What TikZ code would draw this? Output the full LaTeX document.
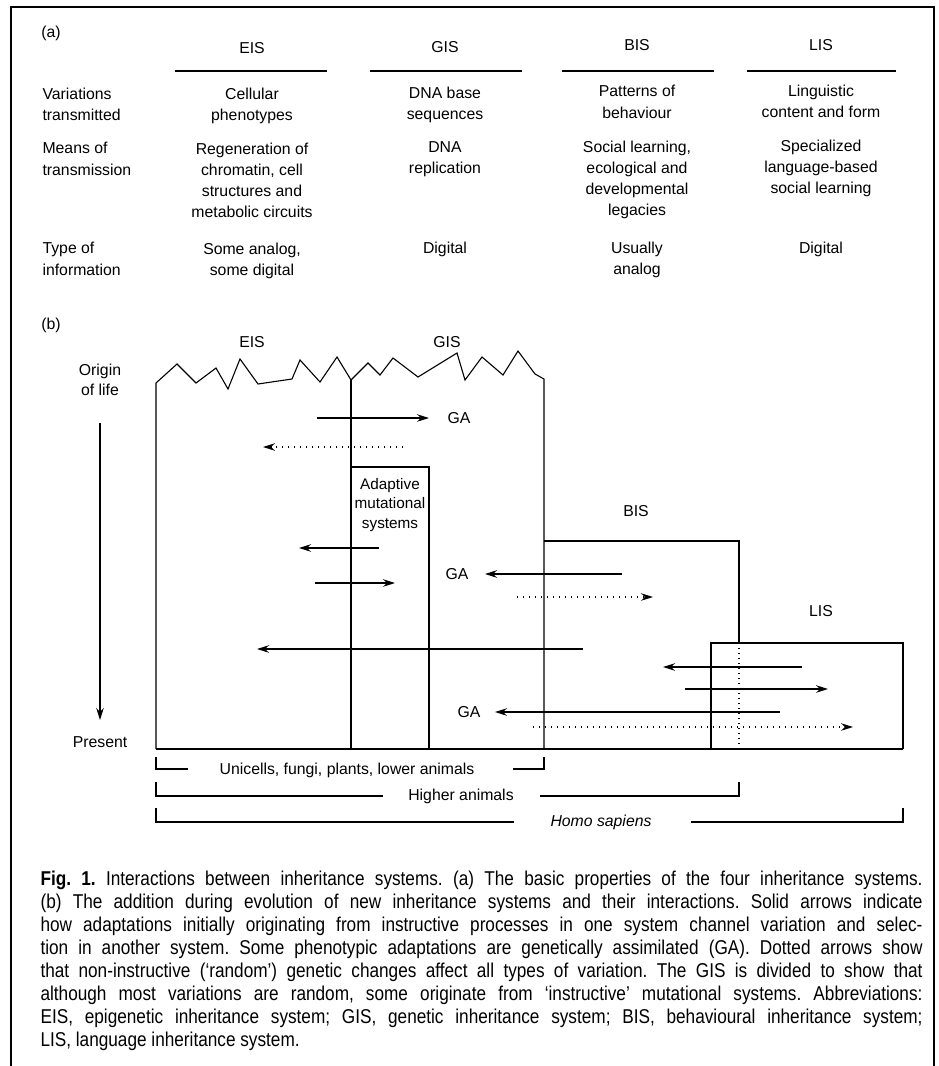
\documentclass[tikz,border=0pt]{standalone}
\usepackage{fontspec}
\setmainfont{Liberation Sans}
\newfontfamily\capfont[FakeStretch=0.86]{Liberation Sans}
\usetikzlibrary{arrows.meta}

\begin{document}
\begin{tikzpicture}[x=1pt,y=-1pt,line width=1.1pt,
  txt/.style={font=\fontsize{15.8}{21.3}\selectfont, inner sep=0pt, align=center},
  cell/.style={txt, anchor=north},
  rowlbl/.style={txt, anchor=north west, align=left},
  arr/.style={-{Stealth[length=12pt,width=7.5pt]}},
  dotarr/.style={arr, dash pattern=on 1pt off 5pt},
  dotln/.style={dash pattern=on 1pt off 4pt}]
\useasboundingbox (0,0) rectangle (938,1066);
% frame
\draw[line width=1.3pt] (11,1066) -- (11,7) -- (934,7) -- (934,1066);

% (a) table
\node[txt] (parta) at (51,33) {(a)};
\node[txt] (heis) at (252,48) {EIS};
\node[txt] (hgis) at (445,47) {GIS};
\node[txt] (hbis) at (637,45) {BIS};
\node[txt] (hlis) at (821,45) {LIS};
\draw (175,71) -- (327,71);
\draw (370,71) -- (522,71);
\draw (562,71) -- (714,71);
\draw (747,71) -- (896,71);

\node[rowlbl] (rvar) at (42,87) {Variations\\transmitted};
\node[rowlbl] (rmean) at (42,142) {Means of\\transmission};
\node[rowlbl] (rtype) at (42,242) {Type of\\information};

\node[cell] (eisvar) at (252,87) {Cellular\\phenotypes};
\node[cell] (eismean) at (252,142) {Regeneration of\\chromatin, cell\\structures and\\metabolic circuits};
\node[cell] (eistype) at (252,242) {Some analog,\\some digital};
\node[cell] (gisvar) at (445,86) {DNA base\\sequences};
\node[cell] (gismean) at (445,141) {DNA\\replication};
\node[cell] (gistype) at (445,241) {Digital};
\node[cell] (bisvar) at (637,85) {Patterns of\\behaviour};
\node[cell] (bismean) at (637,140) {Social learning,\\ecological and\\developmental\\legacies};
\node[cell] (bistype) at (637,241) {Usually\\analog};
\node[cell] (lisvar) at (821,84) {Linguistic\\content and form};
\node[cell] (lismean) at (821,139) {Specialized\\language-based\\social learning};
\node[cell] (listype) at (821,241) {Digital};

% (b) systems
\node[txt] (partb) at (51,325) {(b)};
\node[txt, font=\fontsize{15.8}{20}\selectfont] (orig) at (100,380) {Origin\\of life};
\node[txt] (pres) at (100,742) {Present};
\coordinate (tstart) at (100,423);
\coordinate (tend) at (100,720);
\draw[arr] (tstart) -- (tend);

\draw (156,749) -- (156,383) -- (177,364) -- (196,383) -- (216,368) -- (228,389)
  -- (240,359) -- (258,384) -- (292,379) -- (300,360) -- (320,382) -- (337,357)
  -- (351,380) -- (368,363) -- (380,375) -- (393,358) -- (418,377) -- (457,353)
  -- (465,380) -- (482,357) -- (503,375) -- (518,351) -- (535,374) -- (544,379)
  -- (544,749);
\draw (351,380) -- (351,749);
\draw (351,467) -- (429,467) -- (429,749);
\draw (156,749) -- (903,749);
\draw (544,541) -- (739,541) -- (739,643);
\draw[dotln] (739,643) -- (739,749);
\draw (711,749) -- (711,643) -- (903,643) -- (903,749);

\node[txt] (eis) at (252,342) {EIS};
\node[txt] (gis) at (447,342) {GIS};
\node[txt] (bis) at (636,511) {BIS};
\node[txt] (lis) at (821,611) {LIS};
\node[txt, font=\fontsize{15.3}{19.5}\selectfont] (ams) at (390,505) {Adaptive\\mutational\\systems};
\node[txt] (ga1) at (459,418) {GA};
\node[txt] (ga2) at (457,574) {GA};
\node[txt] (ga3) at (469,712) {GA};

% arrows
\coordinate (a1s) at (317,418); \coordinate (a1e) at (429,418);
\coordinate (a2s) at (403,447); \coordinate (a2e) at (263,447);
\coordinate (a3s) at (379,548); \coordinate (a3e) at (299,548);
\coordinate (a4s) at (315,583); \coordinate (a4e) at (395,583);
\coordinate (a5s) at (622,574); \coordinate (a5e) at (485,574);
\coordinate (a6s) at (517,597); \coordinate (a6e) at (653,597);
\coordinate (a7s) at (583,649); \coordinate (a7e) at (257,649);
\coordinate (a8s) at (802,667); \coordinate (a8e) at (663,667);
\coordinate (a9s) at (685,689); \coordinate (a9e) at (828,689);
\coordinate (a10s) at (780,712); \coordinate (a10e) at (495,712);
\coordinate (a11s) at (533,727); \coordinate (a11e) at (853,727);
\draw[arr] (a1s) -- (a1e);
\draw[dotarr] (a2s) -- (a2e);
\draw[arr] (a3s) -- (a3e);
\draw[arr] (a4s) -- (a4e);
\draw[arr] (a5s) -- (a5e);
\draw[dotarr] (a6s) -- (a6e);
\draw[arr] (a7s) -- (a7e);
\draw[arr] (a8s) -- (a8e);
\draw[arr] (a9s) -- (a9e);
\draw[arr] (a10s) -- (a10e);
\draw[dotarr] (a11s) -- (a11e);

% brackets
\node[txt] (uni) at (347,770) {Unicells, fungi, plants, lower animals};
\draw (156,757) -- (156,769) -- (188,769);
\draw (513,769) -- (544,769) -- (544,757);
\node[txt] (high) at (461,796) {Higher animals};
\draw (156,782) -- (156,796) -- (383,796);
\draw (540,796) -- (739,796) -- (739,782);
\node[txt, font=\fontsize{15.8}{20}\selectfont\itshape] (homo) at (601,822) {Homo sapiens};
\draw (156,808) -- (156,822) -- (514,822);
\draw (691,822) -- (903,822) -- (903,808);

% caption
\node[anchor=north west, inner sep=0pt, text width=882pt, align=justify,
  font=\capfont\fontsize{20}{23}\selectfont\frenchspacing] (cap) at (40,870) {%
\textbf{Fig. 1.} Interactions between inheritance systems. (a) The basic properties of the four inheritance systems.\linebreak
(b) The addition during evolution of new inheritance systems and their interactions. Solid arrows indicate\linebreak
how adaptations initially originating from instructive processes in one system channel variation and selec-\linebreak
tion in another system. Some phenotypic adaptations are genetically assimilated (GA). Dotted arrows show\linebreak
that non-instructive (‘random’) genetic changes affect all types of variation. The GIS is divided to show that\linebreak
although most variations are random, some originate from ‘instructive’ mutational systems. Abbreviations:\linebreak
EIS, epigenetic inheritance system; GIS, genetic inheritance system; BIS, behavioural inheritance system;\linebreak
LIS, language inheritance system.};
\end{tikzpicture}
\end{document}
